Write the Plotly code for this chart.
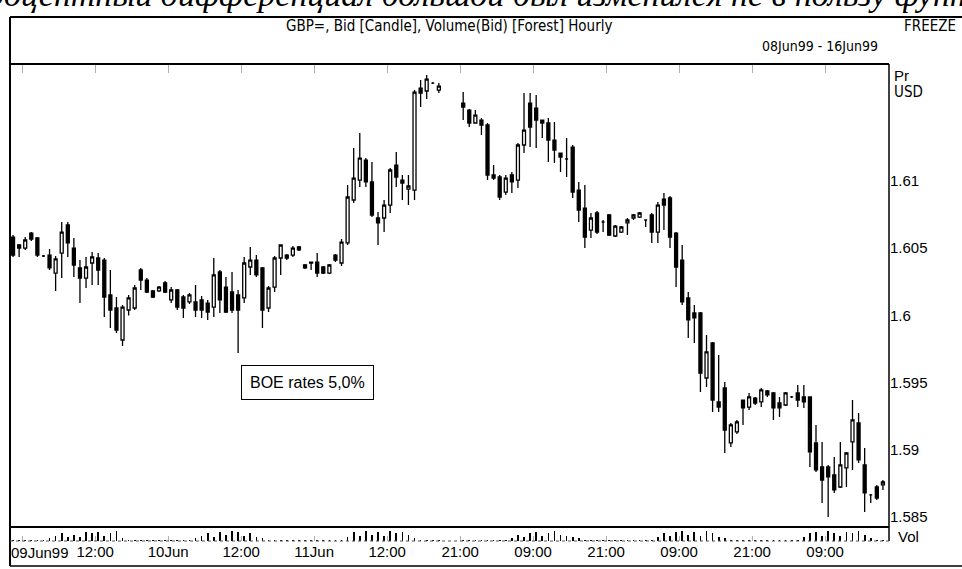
import plotly.graph_objects as go

# ---------------- data ----------------
# hourly slot index of each candle (night gap at 71-73)
slots = list(range(0, 71)) + list(range(74, 144))

opens = [1.60583,1.60524,1.60501,1.60613,1.60576,1.60442,1.60449,1.60315,1.60464,1.60673,
         1.60501,1.60353,1.60278,1.6039,1.60427,1.60412,1.60152,1.60055,1.59817,1.6004,
         1.60055,1.60338,1.60263,1.60182,1.60182,1.60241,1.60115,1.60189,1.60137,1.601,
         1.601,1.60115,1.60092,1.60062,1.60323,1.60211,1.60174,1.60152,1.6013,1.6036,
         1.60412,1.60353,1.60055,1.60211,1.60427,1.60449,1.60449,1.60509,1.60375,1.60397,
         1.60397,1.6036,1.60315,1.60449,1.6039,1.60539,1.60859,1.61007,1.61156,1.60993,
         1.60725,1.60725,1.60821,1.61119,1.61007,1.6094,1.60933,1.61692,1.6167,1.61729,
         1.61677,
         1.6158,1.61528,1.61432,1.61454,1.61417,1.61045,1.6103,1.60918,1.61045,1.61007,
         1.61268,1.6158,1.61543,1.61454,1.61432,1.61305,1.61208,1.61164,1.61253,1.60933,
         1.60799,1.60635,1.60762,1.60695,1.60747,1.60591,1.6062,1.60688,1.60725,1.60732,
         1.6071,1.60747,1.6062,1.60866,1.60874,1.60613,1.60412,1.6013,1.60018,1.60018,
         1.59534,1.59795,1.59356,1.5946,1.59051,1.59133,1.5937,1.59318,1.59385,1.59356,
         1.59438,1.59423,1.59348,1.59333,1.59393,1.59423,1.59393,1.59393,1.59051,1.58872,
         1.58872,1.58813,1.58723,1.58865,1.59058,1.592,1.58887,1.58664,1.58723,1.58738]

highs = [1.60598,1.60531,1.60583,1.6062,1.60583,1.60449,1.60494,1.60442,1.60695,1.60695,
         1.60576,1.60412,1.60435,1.60472,1.60464,1.60427,1.60338,1.60137,1.60077,1.60152,
         1.60226,1.60353,1.60278,1.60189,1.60219,1.60256,1.60211,1.60196,1.60152,1.60167,
         1.60226,1.60144,1.60115,1.60427,1.60338,1.60286,1.60323,1.60189,1.60435,1.60509,
         1.60449,1.6036,1.60219,1.60442,1.60524,1.60457,1.60516,1.60516,1.60382,1.60397,
         1.60464,1.60368,1.60382,1.60457,1.60568,1.6097,1.61246,1.61357,1.61171,1.61141,
         1.60769,1.60859,1.61097,1.61216,1.61045,1.61045,1.61677,1.61751,1.61789,1.61737,
         1.61729,
         1.61662,1.61536,1.61528,1.61469,1.61432,1.61119,1.61045,1.61045,1.61067,1.61283,
         1.61655,1.61655,1.6164,1.61454,1.61469,1.61439,1.61208,1.6132,1.61268,1.60993,
         1.6097,1.60762,1.60777,1.6071,1.60754,1.60673,1.60665,1.60725,1.60754,1.60769,
         1.6071,1.60762,1.60844,1.60911,1.60889,1.6062,1.60524,1.60174,1.60077,1.60025,
         1.59854,1.59802,1.59705,1.59504,1.592,1.59222,1.5937,1.59423,1.59393,1.5946,
         1.59445,1.5943,1.59393,1.5943,1.594,1.59482,1.59482,1.59393,1.59185,1.59058,
         1.58887,1.58946,1.59058,1.58984,1.5937,1.59274,1.59013,1.58671,1.58738,1.58775]

lows = [1.60435,1.60435,1.60487,1.60554,1.60435,1.60435,1.60338,1.60182,1.60278,1.60435,
        1.60286,1.60092,1.60204,1.60226,1.60226,1.59988,1.59906,1.59869,1.59772,1.6,
        1.6004,1.60189,1.60167,1.6013,1.60174,1.60167,1.60092,1.6004,1.59981,1.60085,
        1.59988,1.59981,1.59966,1.59988,1.60018,1.60018,1.60018,1.5972,1.60092,1.60301,
        1.60286,1.59906,1.60025,1.60174,1.60301,1.60412,1.60435,1.60479,1.60345,1.60338,
        1.60286,1.60308,1.60308,1.60397,1.60368,1.60524,1.60836,1.60955,1.60955,1.60732,
        1.60524,1.6062,1.60762,1.60955,1.60859,1.60821,1.60859,1.61551,1.6161,1.61722,
        1.61655,
        1.61454,1.61402,1.61432,1.61342,1.61007,1.61007,1.60859,1.60896,1.60911,1.60948,
        1.61208,1.61253,1.61246,1.6132,1.61141,1.61134,1.61067,1.6103,1.60874,1.60695,
        1.60501,1.60576,1.60606,1.6062,1.60591,1.60583,1.60613,1.60598,1.6071,1.60725,
        1.60658,1.60539,1.60539,1.60635,1.60501,1.60211,1.60077,1.59832,1.59795,1.5943,
        1.59467,1.59281,1.59281,1.58976,1.59021,1.59118,1.59185,1.59296,1.59333,1.59318,
        1.59393,1.59222,1.59244,1.59326,1.59385,1.59318,1.59311,1.58872,1.58835,1.58604,
        1.585,1.58679,1.58716,1.58723,1.5885,1.58902,1.58537,1.58604,1.58626,1.58701]

closes = [1.60449,1.60501,1.60561,1.60568,1.60449,1.60442,1.60353,1.6042,1.6062,1.60539,
          1.60375,1.60278,1.6036,1.60435,1.60338,1.60137,1.6004,1.59891,1.60062,1.6013,
          1.60204,1.60263,1.60174,1.60137,1.60211,1.60174,1.60189,1.60062,1.60055,1.60152,
          1.6004,1.6004,1.60025,1.60301,1.60115,1.60025,1.6004,1.6004,1.6039,1.60412,
          1.60301,1.6004,1.60204,1.60427,1.60524,1.60427,1.60501,1.60487,1.60353,1.6039,
          1.60315,1.60315,1.60375,1.60412,1.60546,1.60881,1.61022,1.61171,1.60993,1.60747,
          1.60688,1.60821,1.61082,1.6103,1.60985,1.60963,1.61662,1.61655,1.61759,1.61729,
          1.61707,
          1.61551,1.61432,1.61491,1.61417,1.61045,1.61022,1.60881,1.61022,1.60993,1.61268,
          1.61379,1.61402,1.61454,1.61432,1.61305,1.61231,1.61179,1.61164,1.60918,1.60784,
          1.60583,1.60725,1.6062,1.60695,1.60598,1.60665,1.60658,1.6071,1.60747,1.60762,
          1.6071,1.6062,1.60821,1.60821,1.60583,1.6036,1.601,1.59966,1.59981,1.59571,
          1.59728,1.5937,1.59318,1.59147,1.59185,1.59207,1.59311,1.59393,1.59348,1.59445,
          1.59408,1.59311,1.59311,1.59423,1.59393,1.5937,1.59356,1.58984,1.5885,1.58775,
          1.58798,1.58701,1.58887,1.58976,1.59222,1.58924,1.58679,1.58664,1.58641,1.5876]

vol_slots = list(range(0, 144))
volumes = [0.5,0.5,0.5, 0.5,1,0.5,
           2,4,6,3,5,3,7,6,7,4,6,8,2,
           1,0.5,0.5,0.5,0.5,0.5,1,0.5,0.5,0.5,1,
           2,4,6,3,7,5,8,7,4,6,3,2,
           1,0.5,0.5,0.5,0.5,0.5,0.5,0.5,1,0.5,0.5,0.5,1,
           3,7,4,8,5,7,4,8,6,7,5,2,
           1,0.5,0.5,0.5,
           0,0,0,
           0.5,0.5,0.5,0.5,0.5,1,0.5,0.5,
           2,5,3,6,7,4,6,8,5,4,3,2,
           1,0.5,0.5,0.5,0.5,0.5,0.5,0.5,0.5,0.5,1,0.5,
           3,6,4,7,8,5,7,4,8,6,3,2,
           1,0.5,0.5,0.5,0.5,0.5,0.5,0.5,0.5,0.5,1,1,
           3,6,7,4,8,6,4,7,6,8,5,2,1,0.5]

tick_slots = [1.5 + 12 * j for j in range(12)]
tick_labels = ["", "12:00", "10Jun", "12:00", "11Jun", "12:00",
               "21:00", "09:00", "21:00", "09:00", "21:00", "09:00"]
price_ticks = [1.585, 1.59, 1.595, 1.6, 1.605, 1.61]
price_labels = ["1.585", "1.59", "1.595", "1.6", "1.605", "1.61"]

# ---------------- layout helpers (pixel -> paper) ----------------
W, H = 962, 569
def px(x): return x / W
def py(y): return 1 - y / H

SANS = "Liberation Sans, Arial, sans-serif"
NARROW = "Liberation Sans Narrow, Arial Narrow, DejaVu Sans Condensed, sans-serif"

fig = go.Figure()
fig.add_trace(go.Candlestick(
    x=slots, open=opens, high=highs, low=lows, close=closes,
    increasing=dict(line=dict(color="black", width=1.3), fillcolor="white"),
    decreasing=dict(line=dict(color="black", width=1.3), fillcolor="black"),
    whiskerwidth=0, showlegend=False, hoverinfo="skip",
    xaxis="x", yaxis="y"))
fig.add_trace(go.Bar(
    x=vol_slots, y=volumes, width=0.28, marker=dict(color="black", line=dict(width=0)),
    showlegend=False, hoverinfo="skip", xaxis="x2", yaxis="y2"))

XR = [-0.5, 144.0]
fig.update_layout(
    width=W, height=H, margin=dict(l=0, r=0, t=0, b=0),
    paper_bgcolor="white", plot_bgcolor="white",
    xaxis=dict(domain=[px(10), px(889)], range=XR, anchor="y", side="top",
               rangeslider=dict(visible=False), showgrid=False, zeroline=False,
               showline=False, tickmode="array", tickvals=tick_slots,
               showticklabels=False, ticks="inside", ticklen=9, tickwidth=1,
               tickcolor="#b0b0b0"),
    yaxis=dict(domain=[py(525), py(64)], range=[1.58440, 1.61871], anchor="x",
               side="right", showgrid=False, zeroline=False, showline=False,
               tickmode="array", tickvals=price_ticks, ticktext=price_labels,
               ticks="", tickfont=dict(family=SANS, size=15, color="black")),
    xaxis2=dict(domain=[px(10), px(889)], range=XR, anchor="y2", matches="x",
                showgrid=False, zeroline=False, showline=False,
                tickmode="array", tickvals=tick_slots, ticktext=tick_labels,
                ticks="inside", ticklen=5, tickcolor="#b0b0b0",
                tickfont=dict(family=SANS, size=15, color="black")),
    yaxis2=dict(domain=[py(541), py(528)], range=[0, 10], anchor="x2",
                showgrid=False, zeroline=False, showline=False,
                showticklabels=False, ticks=""),
    bargap=0,
)

ann = []
def A(text, x, y, size, xanchor="left", yanchor="middle", family=SANS, **kw):
    ann.append(dict(text=text, x=px(x), y=py(y), xref="paper", yref="paper",
                    xanchor=xanchor, yanchor=yanchor, showarrow=False,
                    font=dict(family=family, size=size, color="black"), **kw))

A("<i>процентный дифференциал большой был изменился не в пользу фунта</i>",
  481, -6, 34, xanchor="center", family="Liberation Serif, Times New Roman, serif")
A("GBP=, Bid [Candle], Volume(Bid) [Forest] Hourly", 449, 26, 15, xanchor="center", family=NARROW)
A("FREEZE", 958, 26, 15, xanchor="right", family=NARROW)
A("08Jun99 - 16Jun99", 820, 46, 14, xanchor="center", family=NARROW)
A("Pr", 892, 75, 15)
A("USD", 892, 92, 15, family=NARROW)
A("Vol", 896, 536, 15)
A("09Jun99", 9, 552, 15)
A("BOE rates 5,0%", 241, 382, 16, bordercolor="black", borderwidth=1,
  borderpad=8, bgcolor="white")
fig.update_layout(annotations=ann)

shapes = []
def L(x0, y0, x1, y1, w=2, dash="solid", color="black"):
    shapes.append(dict(type="line", xref="paper", yref="paper",
                       x0=px(x0), y0=py(y0), x1=px(x1), y1=py(y1),
                       line=dict(color=color, width=w, dash=dash)))
L(10, 17, 962, 17, 2)        # outer top
L(10, 17, 10, 566, 2)        # outer left
L(10, 64, 889, 64, 2)        # plot top
L(889, 64, 889, 541, 1.5)    # plot right
L(10, 527, 889, 527, 2)      # price/volume divider
L(10, 541, 889, 541, 1, dash="dot", color="#555555")  # volume baseline
L(10, 566, 962, 566, 1.5)    # bottom
fig.update_layout(shapes=shapes)

fig.write_html("out.html", config={"displayModeBar": False, "staticPlot": True},
               post_script="document.body.style.margin='0';document.body.style.overflow='hidden';")
